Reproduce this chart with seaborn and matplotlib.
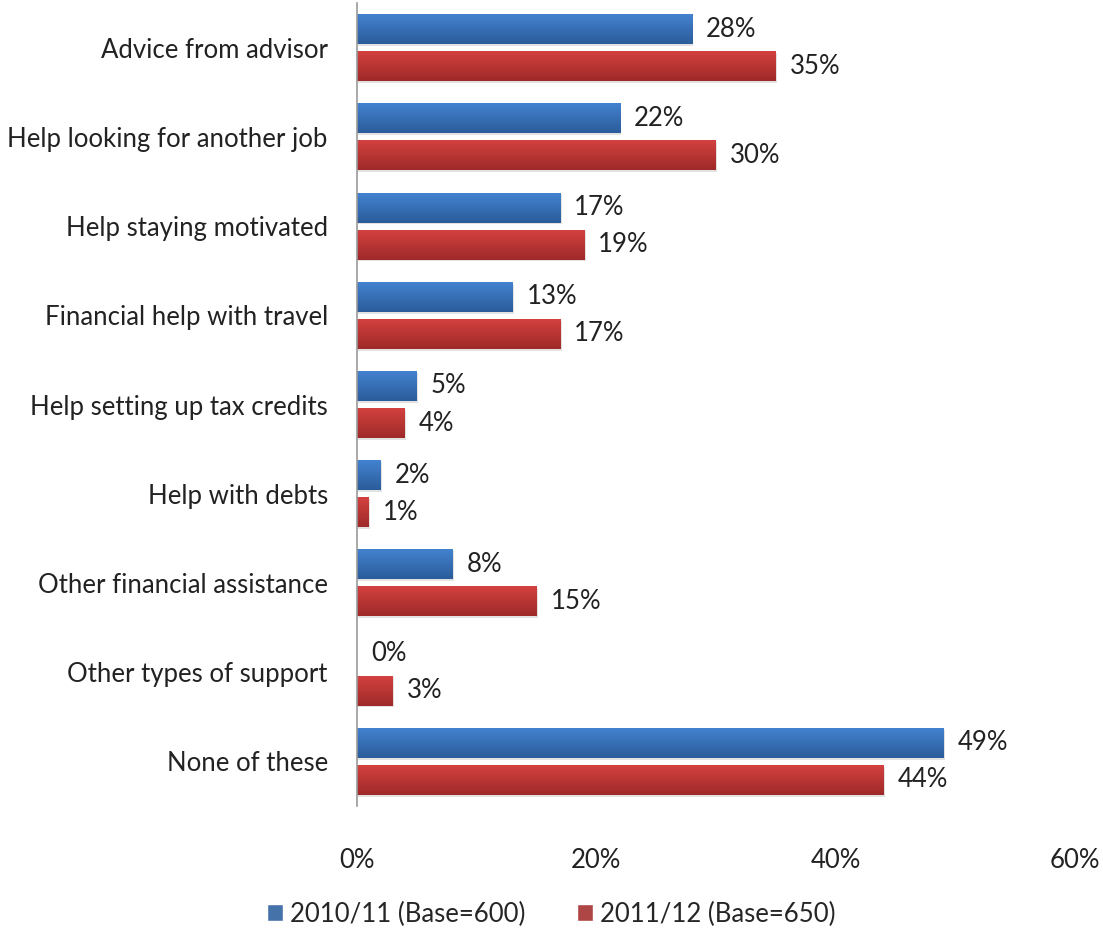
import numpy as np
import pandas as pd
import matplotlib
matplotlib.use("Agg")
import matplotlib.pyplot as plt
import seaborn as sns
from matplotlib.colors import LinearSegmentedColormap
from matplotlib.patches import Rectangle

categories = [
    "Advice from advisor",
    "Help looking for another job",
    "Help staying motivated",
    "Financial help with travel",
    "Help setting up tax credits",
    "Help with debts",
    "Other financial assistance",
    "Other types of support",
    "None of these",
]
series_names = ["2010/11 (Base=600)", "2011/12 (Base=650)"]
values_2010 = [28, 22, 17, 13, 5, 2, 8, 0, 49]
values_2011 = [35, 30, 19, 17, 4, 1, 15, 3, 44]
x_ticks = [0, 20, 40, 60]
x_tick_labels = ["0%", "20%", "40%", "60%"]

colors = {"2010/11 (Base=600)": "#3670BA", "2011/12 (Base=650)": "#BE3534"}
grad = {
    "2010/11 (Base=600)": ("#4382d0", "#2b5c9a"),
    "2011/12 (Base=650)": ("#d3413f", "#9e2a29"),
}

df = pd.DataFrame({
    "category": categories * 2,
    "series": [series_names[0]] * len(categories) + [series_names[1]] * len(categories),
    "value": values_2010 + values_2011,
})

sns.set_style("white")
plt.rcParams["font.family"] = ["Lato", "DejaVu Sans"]
FS = 18.5

fig = plt.figure(figsize=(11.03, 9.33), dpi=100)
ax = fig.add_axes([357 / 1103, 1 - 806 / 933, (1075 - 357) / 1103, (806 - 3) / 933])

sns.barplot(data=df, y="category", x="value", hue="series", order=categories,
            hue_order=series_names, palette=colors, orient="h",
            width=0.83, gap=0.19, ax=ax, legend=True, errorbar=None)

ax.set_xlim(0, 60)
ax.set_ylim(len(categories) - 0.5, -0.5)

# soft vertical gradient and drop shadow on each bar
for container, name in zip(ax.containers, series_names):
    top, bot = grad[name]
    cmap = LinearSegmentedColormap.from_list(name, [top, bot])
    for patch in container:
        x0, y0 = patch.get_x(), patch.get_y()
        w, h = patch.get_width(), patch.get_height()
        if w <= 0:
            continue
        shadow = Rectangle((x0 + 0.1, y0 + 0.02), w, h, facecolor="#a0a0a0",
                           alpha=0.3, edgecolor="none", zorder=1.5)
        ax.add_patch(shadow)
        patch.set_zorder(2)
        patch.set_edgecolor("none")
        img = ax.imshow(np.linspace(0, 1, 64).reshape(-1, 1), cmap=cmap, aspect="auto",
                        extent=(x0, x0 + w, y0 + h, y0), zorder=2.1, interpolation="bilinear")
        img.set_clip_path(patch)
    ax.bar_label(container, labels=[f"{v:g}%" for v in container.datavalues],
                 padding=10, fontsize=FS, color="#222222")

ax.set_xlim(0, 60)
ax.set_ylim(len(categories) - 0.5, -0.5)

ax.set_xticks(x_ticks)
ax.set_xticklabels(x_tick_labels)
ax.tick_params(axis="x", length=0, pad=30, labelsize=FS, labelcolor="#222222")
ax.tick_params(axis="y", length=0, pad=21, labelsize=FS, labelcolor="#222222")
ax.set_xlabel("")
ax.set_ylabel("")

for side in ["top", "right", "bottom"]:
    ax.spines[side].set_visible(False)
ax.spines["left"].set_color("#999999")
ax.spines["left"].set_linewidth(1.2)

handles, labels = ax.get_legend_handles_labels()
ax.legend_.remove()
fig.legend(handles, labels, loc="center", bbox_to_anchor=(0.5, 1 - 914 / 933),
           ncol=2, frameon=False, fontsize=FS, handlelength=0.6, handleheight=0.6,
           handletextpad=0.3, columnspacing=2.0)

fig.savefig("out.png", dpi=100, facecolor="white")
